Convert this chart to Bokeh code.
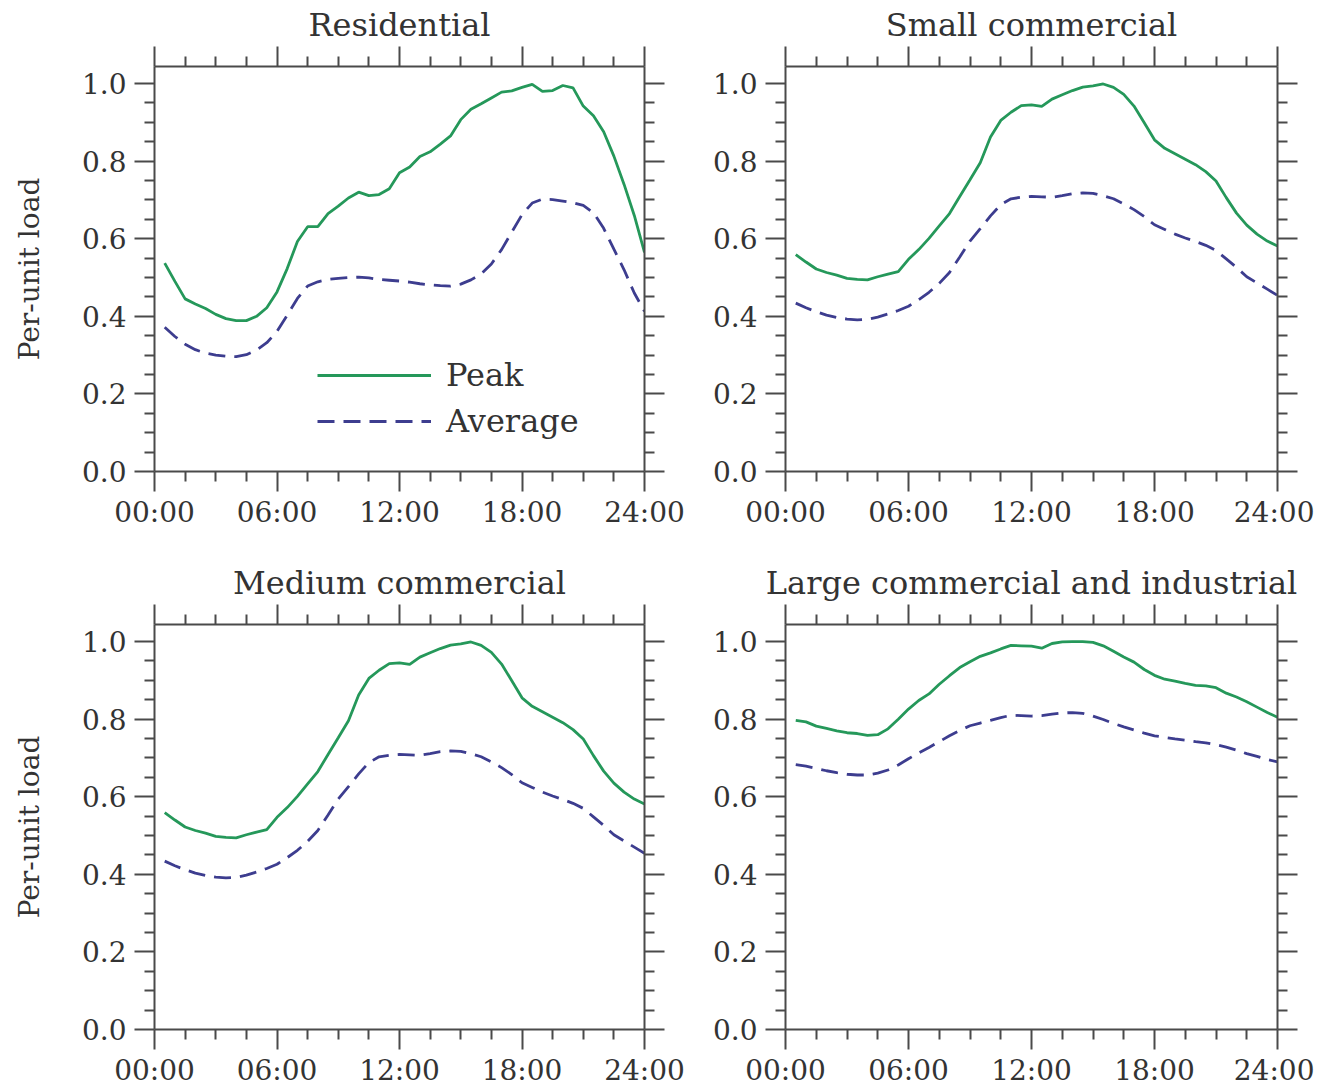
from bokeh.plotting import figure
from bokeh.models import FixedTicker, LinearAxis, Range1d, Legend, LegendItem
from bokeh.layouts import row, column
from bokeh.embed import file_html
from bokeh.resources import INLINE

hours = [0.5, 1.0, 1.5, 2.0, 2.5, 3.0, 3.5, 4.0, 4.5, 5.0, 5.5, 6.0,
         6.5, 7.0, 7.5, 8.0, 8.5, 9.0, 9.5, 10.0, 10.5, 11.0, 11.5, 12.0,
         12.5, 13.0, 13.5, 14.0, 14.5, 15.0, 15.5, 16.0, 16.5, 17.0, 17.5, 18.0,
         18.5, 19.0, 19.5, 20.0, 20.5, 21.0, 21.5, 22.0, 22.5, 23.0, 23.5, 24.0]

residential_peak = [0.537, 0.49, 0.445, 0.432, 0.42, 0.405, 0.394, 0.389, 0.389, 0.40, 0.422, 0.463,
                    0.523, 0.593, 0.631, 0.631, 0.665, 0.684, 0.705, 0.72, 0.711, 0.714, 0.729, 0.770,
                    0.785, 0.812, 0.824, 0.844, 0.865, 0.907, 0.934, 0.948, 0.963, 0.978, 0.981, 0.99,
                    0.998, 0.98, 0.982, 0.995, 0.989, 0.942, 0.917, 0.876, 0.813, 0.74, 0.66, 0.565]
residential_avg = [0.372, 0.348, 0.328, 0.314, 0.305, 0.300, 0.297, 0.296, 0.301, 0.313, 0.332, 0.361,
                   0.403, 0.446, 0.478, 0.489, 0.495, 0.498, 0.500, 0.501, 0.499, 0.495, 0.493, 0.491,
                   0.488, 0.484, 0.481, 0.479, 0.478, 0.483, 0.494, 0.509, 0.535, 0.572, 0.617, 0.662,
                   0.692, 0.702, 0.701, 0.697, 0.693, 0.686, 0.667, 0.627, 0.573, 0.52, 0.46, 0.413]

small_peak = [0.559, 0.54, 0.522, 0.513, 0.506, 0.498, 0.495, 0.494, 0.502, 0.509, 0.515, 0.547,
              0.572, 0.601, 0.633, 0.665, 0.709, 0.752, 0.796, 0.862, 0.905, 0.926, 0.943, 0.945,
              0.941, 0.96, 0.971, 0.982, 0.991, 0.994, 0.999, 0.99, 0.972, 0.942, 0.899, 0.855,
              0.833, 0.819, 0.805, 0.791, 0.773, 0.749, 0.706, 0.666, 0.635, 0.612, 0.594, 0.581]
small_avg = [0.434, 0.422, 0.412, 0.403, 0.397, 0.393, 0.391, 0.392, 0.398, 0.406, 0.415, 0.426,
             0.443, 0.462, 0.485, 0.513, 0.553, 0.594, 0.626, 0.659, 0.688, 0.703, 0.707, 0.709,
             0.708, 0.707, 0.711, 0.716, 0.718, 0.717, 0.711, 0.703, 0.69, 0.675, 0.657, 0.636,
             0.624, 0.612, 0.602, 0.593, 0.583, 0.57, 0.548, 0.526, 0.502, 0.486, 0.47, 0.454]

medium_peak = [0.559, 0.54, 0.522, 0.513, 0.506, 0.498, 0.495, 0.494, 0.502, 0.509, 0.515, 0.547,
               0.572, 0.601, 0.633, 0.665, 0.709, 0.752, 0.796, 0.862, 0.905, 0.926, 0.943, 0.945,
               0.941, 0.96, 0.971, 0.982, 0.991, 0.994, 0.999, 0.99, 0.972, 0.942, 0.899, 0.855,
               0.833, 0.819, 0.805, 0.791, 0.773, 0.749, 0.706, 0.666, 0.635, 0.612, 0.594, 0.581]
medium_avg = [0.434, 0.422, 0.412, 0.403, 0.397, 0.393, 0.391, 0.392, 0.398, 0.406, 0.415, 0.426,
              0.443, 0.462, 0.485, 0.513, 0.553, 0.594, 0.626, 0.659, 0.688, 0.703, 0.707, 0.709,
              0.708, 0.707, 0.711, 0.716, 0.718, 0.717, 0.711, 0.703, 0.69, 0.675, 0.657, 0.636,
              0.624, 0.612, 0.602, 0.593, 0.583, 0.57, 0.548, 0.526, 0.502, 0.486, 0.47, 0.454]

large_peak = [0.797, 0.793, 0.782, 0.776, 0.77, 0.765, 0.763, 0.758, 0.76, 0.775, 0.80, 0.826,
              0.848, 0.865, 0.89, 0.912, 0.933, 0.948, 0.962, 0.971, 0.981, 0.99, 0.989, 0.988,
              0.983, 0.995, 0.999, 1.0, 1.0, 0.998, 0.989, 0.975, 0.96, 0.947, 0.928, 0.913,
              0.903, 0.898, 0.892, 0.887, 0.886, 0.881, 0.867, 0.857, 0.845, 0.831, 0.817, 0.805]
large_avg = [0.683, 0.679, 0.673, 0.667, 0.662, 0.658, 0.656, 0.656, 0.661, 0.669, 0.682, 0.698,
             0.713, 0.727, 0.742, 0.757, 0.771, 0.783, 0.79, 0.797, 0.804, 0.81, 0.809, 0.808,
             0.809, 0.813, 0.816, 0.817, 0.815, 0.808, 0.799, 0.789, 0.78, 0.772, 0.764, 0.757,
             0.753, 0.749, 0.746, 0.742, 0.739, 0.734, 0.728, 0.72, 0.711, 0.704, 0.696, 0.69]

x_major = [0, 6, 12, 18, 24]
x_minor = [1.5, 3, 4.5, 7.5, 9, 10.5, 13.5, 15, 16.5, 19.5, 21, 22.5]
x_labels = ["00:00", "06:00", "12:00", "18:00", "24:00"]
y_major = [0.0, 0.2, 0.4, 0.6, 0.8, 1.0]
y_minor = [0.05, 0.1, 0.15, 0.25, 0.3, 0.35, 0.45, 0.5, 0.55, 0.65, 0.7, 0.75, 0.85, 0.9, 0.95]
y_labels = ["0.0", "0.2", "0.4", "0.6", "0.8", "1.0"]

FONT = "DejaVu Serif"
TXT = "#333333"
AX = "#4a4a4a"
GREEN = "#25985a"
BLUE = "#3d3d8f"


def style_axis(ax, major, minor, labels=None, standoff=8):
    ax.ticker = FixedTicker(ticks=major, minor_ticks=minor)
    ax.axis_line_color = AX
    ax.axis_line_width = 2
    ax.major_tick_line_color = AX
    ax.major_tick_line_width = 2
    ax.minor_tick_line_color = AX
    ax.minor_tick_line_width = 2
    ax.major_tick_in = 0
    ax.major_tick_out = 20
    ax.minor_tick_in = 0
    ax.minor_tick_out = 10
    if labels is None:
        ax.major_label_text_color = None
        ax.major_label_text_font_size = "1px"
        ax.major_label_standoff = 0
    else:
        ax.major_label_overrides = {m: l for m, l in zip(major, labels)}
        ax.major_label_text_font = FONT
        ax.major_label_text_font_size = "28px"
        ax.major_label_text_color = TXT
        ax.major_label_standoff = standoff


def make(title, peak, avg, left, right, top, bottom, fw, fh, ylabel=False, legend=False):
    p = figure(frame_width=fw, frame_height=fh,
               x_range=Range1d(0, 24), y_range=Range1d(0, 1.044),
               output_backend="svg", toolbar_location=None,
               min_border_left=left, min_border_right=right,
               min_border_top=top, min_border_bottom=bottom)
    p.grid.visible = False
    p.outline_line_color = None
    p.background_fill_color = "white"
    p.border_fill_color = "white"

    style_axis(p.xaxis[0], x_major, x_minor, x_labels, standoff=4)
    style_axis(p.yaxis[0], y_major, y_minor, y_labels, standoff=8)
    top_ax = LinearAxis()
    style_axis(top_ax, x_major, x_minor)
    p.add_layout(top_ax, "above")
    right_ax = LinearAxis()
    style_axis(right_ax, y_major, y_minor)
    p.add_layout(right_ax, "right")

    if ylabel:
        p.yaxis[0].axis_label = "Per-unit load"
        p.yaxis[0].axis_label_text_font = FONT
        p.yaxis[0].axis_label_text_font_size = "28px"
        p.yaxis[0].axis_label_text_font_style = "normal"
        p.yaxis[0].axis_label_text_color = TXT
        p.yaxis[0].axis_label_standoff = 33

    p.title.text = title
    p.title.align = "center"
    p.title.text_font = FONT
    p.title.text_font_size = "32px"
    p.title.text_font_style = "normal"
    p.title.text_color = TXT
    p.title.standoff = 6

    r1 = p.line(hours, peak, line_color=GREEN, line_width=2.8)
    r2 = p.line(hours, avg, line_color=BLUE, line_width=2.8, line_dash="17 9")

    if legend:
        lg = Legend(items=[LegendItem(label="Peak", renderers=[r1]),
                           LegendItem(label="Average", renderers=[r2])],
                    location=(163, 30), glyph_width=114, glyph_height=40,
                    label_standoff=15, spacing=6, padding=0, margin=0,
                    border_line_color=None, background_fill_alpha=0,
                    label_text_font=FONT, label_text_font_size="32px",
                    label_text_color=TXT)
        p.add_layout(lg)
    return p


p1 = make("Residential", residential_peak, residential_avg, 154, 45, 62, 72, 490, 405, ylabel=True, legend=True)
p2 = make("Small commercial", small_peak, small_avg, 96, 37, 62, 72, 492, 405)
p3 = make("Medium commercial", medium_peak, medium_avg, 154, 45, 81, 52, 490, 405, ylabel=True)
p4 = make("Large commercial and industrial", large_peak, large_avg, 96, 37, 81, 52, 492, 405)

layout = column(row(p1, p2), row(p3, p4))
open("out.html", "w").write(file_html(layout, INLINE))
